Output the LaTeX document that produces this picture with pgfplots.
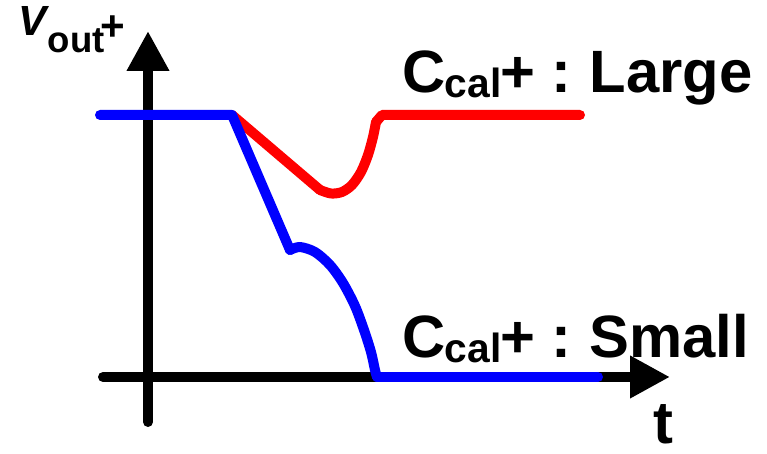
\documentclass[border=0pt]{standalone}
\usepackage{fontspec}
\setmainfont{Liberation Sans}
\usepackage{pgfplots}
\pgfplotsset{compat=1.18}
\usetikzlibrary{arrows.meta}
\definecolor{sigred}{RGB}{255,0,0}
\definecolor{sigblue}{RGB}{0,0,255}
% 1 unit of the drawing = 0.01cm
\newcommand{\lblsz}{\fontsize{17pt}{20pt}\selectfont\bfseries}
\newcommand{\subsz}{\fontsize{11.6pt}{13pt}\selectfont\bfseries}
\newcommand{\vsz}{\fontsize{12pt}{14pt}\selectfont\bfseries}
\newcommand{\osz}{\fontsize{10.4pt}{12pt}\selectfont\bfseries}
\begin{document}
\begin{tikzpicture}
\begin{axis}[
  name=sketch,
  scale only axis, width=7.67cm, height=4.54cm,
  xmin=0, xmax=767, ymin=0, ymax=454, y dir=reverse,
  hide axis, clip=false,
  every axis plot/.append style={line width=0.1cm, line cap=round, line join=round},
]
% time and voltage axes
\draw[line width=0.1cm, line cap=round, -{Triangle[width=0.40cm,length=0.40cm]}] (axis cs:103,377) -- (axis cs:670,377);
\draw[line width=0.1cm, line cap=round, -{Triangle[width=0.40cm,length=0.40cm]}] (axis cs:148,422) -- (axis cs:148,31);

% large calibration capacitor
\addplot[sigred] coordinates {(232,115) (320,190)};
\addplot[sigred, smooth] coordinates {(320,190) (331,193.5) (342,192) (352,185) (361,172) (368,155) (373,137) (376,122)};
\addplot[sigred] coordinates {(376,122) (382,115) (580,115)};

% small calibration capacitor
\addplot[sigblue] coordinates {(100,115) (232,115) (290,250)};
\addplot[sigblue, smooth] coordinates {(290,250) (300,247) (315,252) (330,265) (343,283) (355,306) (364,330) (371,352) (375,370) (377,377)};
\addplot[sigblue] coordinates {(377,377) (598,377)};

% labels
\node[anchor=base west, inner sep=0] at (axis cs:18,36) {\vsz\itshape V};
\node[anchor=base west, inner sep=0] at (axis cs:47,53) {\osz out};
\node[anchor=base west, inner sep=0] at (axis cs:100,41) {\vsz +};

\node[anchor=base west, inner sep=0] at (axis cs:402,93) {\lblsz C};
\node[anchor=base west, inner sep=0] at (axis cs:444,98) {\subsz cal};
\node[anchor=base west, inner sep=0] at (axis cs:500,93) {\lblsz +};
\node[anchor=base west, inner sep=0] at (axis cs:551,93) {\lblsz :};
\node[anchor=base west, inner sep=0] at (axis cs:589,93) {\lblsz Large};

\node[anchor=base west, inner sep=0] at (axis cs:402,358) {\lblsz C};
\node[anchor=base west, inner sep=0] at (axis cs:444,363) {\subsz cal};
\node[anchor=base west, inner sep=0] at (axis cs:500,358) {\lblsz +};
\node[anchor=base west, inner sep=0] at (axis cs:551,358) {\lblsz :};
\node[anchor=base west, inner sep=0] at (axis cs:589,358) {\lblsz Small};

\node[anchor=base west, inner sep=0] at (axis cs:653,444) {\lblsz t};
\end{axis}
\pgfresetboundingbox
\path (sketch.south west) rectangle (sketch.north east);
\end{tikzpicture}
\end{document}
